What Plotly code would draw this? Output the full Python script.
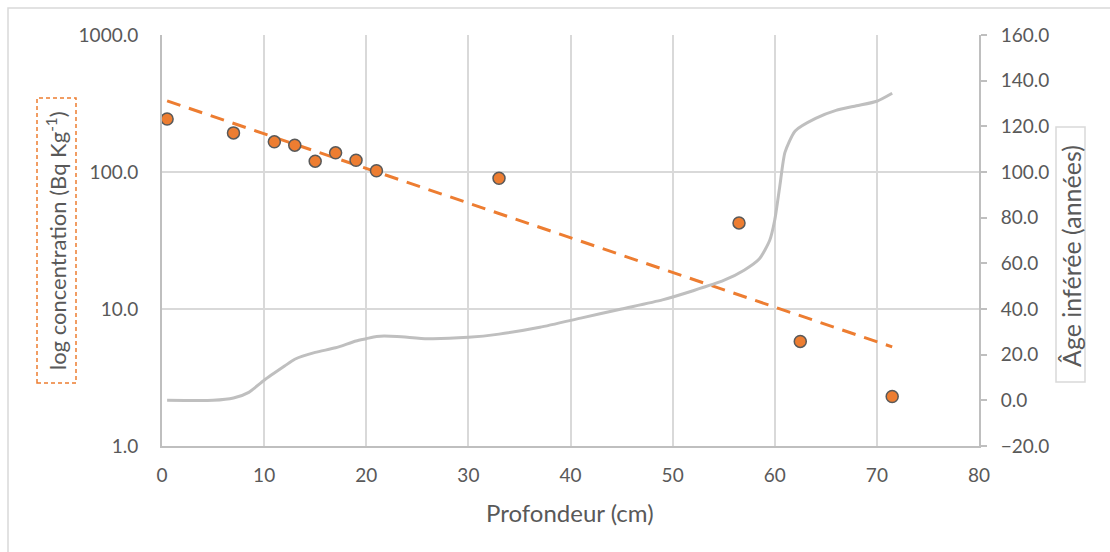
import numpy as np
import plotly.graph_objects as go

# Concentration measurements by depth
depth_cm = [0.5, 7, 11, 13, 15, 17, 19, 21, 33, 56.5, 62.5, 71.5]
concentration = [244, 193, 166, 157, 120, 138, 122, 102, 90, 42.5, 5.8, 2.3]

# Inferred age curve along the core
age_depth = [0.5, 5, 7, 8.5, 10, 12, 13, 15, 17, 19, 20, 21, 23, 26, 30, 33, 37, 41,
             45, 49, 52, 55, 57, 58.5, 59.5, 60, 60.5, 61, 62, 64, 66, 68, 70, 71.5]
age_years = [0, 0, 1, 3.5, 8.8, 15, 18, 21, 23, 26, 27, 28, 28, 27, 27.6, 29, 32, 36,
             40, 44, 48, 52.5, 57, 62, 70, 79, 94, 108.6, 118, 123.5, 127, 129, 131, 134.5]

left_tickvals = [1, 10, 100, 1000]
left_ticktext = ["1.0", "10.0", "100.0", "1000.0"]

# Exponential trendline fitted to the concentrations
slope, intercept = np.polyfit(np.array(depth_cm), np.log10(concentration), 1)
trend_x = np.linspace(min(depth_cm), max(depth_cm), 50)
trend_y = 10 ** (intercept + slope * trend_x)

ORANGE = "#ED7D31"
GRAY = "#BFBFBF"
TEXT = "#595959"
GRID = "#D9D9D9"
FONT = "Lato"

W, H = 1110, 552
L, R, T, B = 162, 131, 35, 106
PW, PH = W - L - R, H - T - B


def px(x):
    return (x - L) / PW


def py(y):
    return (H - B - y) / PH


fig = go.Figure()
fig.add_trace(go.Scatter(
    x=age_depth, y=age_years, mode="lines", yaxis="y2",
    line=dict(color=GRAY, width=3, shape="spline", smoothing=0.6),
    hoverinfo="skip", showlegend=False))
fig.add_trace(go.Scatter(
    x=trend_x, y=trend_y, mode="lines",
    line=dict(color=ORANGE, width=3, dash="14px,9px"),
    showlegend=False))
fig.add_trace(go.Scatter(
    x=depth_cm, y=concentration, mode="markers",
    marker=dict(color=ORANGE, size=12, line=dict(color="#595959", width=1.5)),
    showlegend=False))

fig.update_layout(
    width=W, height=H,
    margin=dict(l=L, r=R, t=T, b=B),
    paper_bgcolor="white", plot_bgcolor="white",
    font=dict(family=FONT, size=19, color=TEXT),
    xaxis=dict(range=[0, 80], dtick=10, showgrid=True, gridcolor=GRID, gridwidth=1.5,
               showline=True, linecolor=GRAY, linewidth=2, zeroline=False,
               ticks="", ticklabelstandoff=11, tickfont=dict(size=19, color=TEXT)),
    yaxis=dict(type="log", range=[0, 3], tickvals=left_tickvals, ticktext=left_ticktext,
               showgrid=True, gridcolor=GRID, gridwidth=1.5,
               showline=True, linecolor=GRAY, linewidth=2, ticks="",
               ticklabelstandoff=18, tickfont=dict(size=19, color=TEXT)),
    yaxis2=dict(overlaying="y", side="right", range=[-20, 160], dtick=20,
                tickformat=".1f", showgrid=False, zeroline=False,
                showline=True, linecolor=GRAY, linewidth=2,
                ticks="outside", ticklen=6, tickcolor=GRAY, tickwidth=1.5,
                ticklabelstandoff=10, tickfont=dict(size=19, color=TEXT)),
)

# Axis titles
title_common = dict(xref="paper", yref="paper", showarrow=False,
                    xanchor="center", yanchor="middle")
fig.add_annotation(text="Profondeur (cm)", x=px(570), y=py(512),
                   font=dict(size=24, color=TEXT), **title_common)
fig.add_annotation(text="log concentration (Bq Kg<sup>-1</sup>)",
                   x=px(56.5), y=py(240.5), textangle=-90,
                   font=dict(size=22, color=TEXT), **title_common)
fig.add_annotation(text="Âge inférée (années)", x=px(1071), y=py(256),
                   textangle=-90, font=dict(size=25, color=TEXT), **title_common)

# Frames around the axis titles and the chart area
fig.add_shape(type="rect", xref="paper", yref="paper",
              x0=px(37), x1=px(76), y0=py(383), y1=py(98),
              line=dict(color=ORANGE, width=1.5, dash="4px,3px"))
fig.add_shape(type="rect", xref="paper", yref="paper",
              x0=px(1056), x1=px(1085), y0=py(382), y1=py(127),
              line=dict(color=GRID, width=1.5))
fig.add_shape(type="rect", xref="paper", yref="paper",
              x0=px(8), x1=px(1130), y0=py(570), y1=py(8),
              line=dict(color=GRID, width=1.5))

fig.write_html("out.html")
